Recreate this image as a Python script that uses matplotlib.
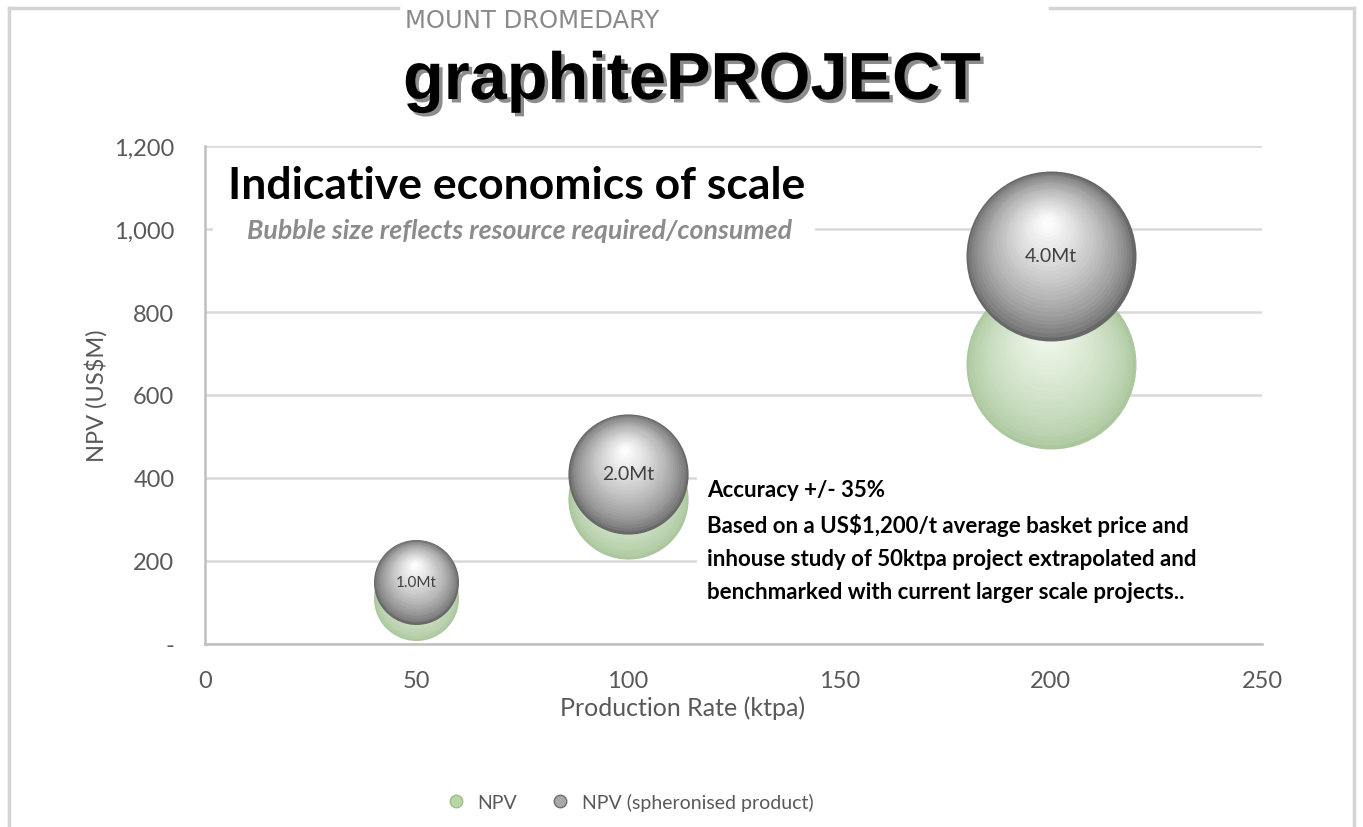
import numpy as np
import matplotlib
matplotlib.use("Agg")
import matplotlib.pyplot as plt
import matplotlib.transforms as mtransforms
import matplotlib.patheffects as pe
from matplotlib.colors import to_rgb
from matplotlib.lines import Line2D
from matplotlib.patches import Rectangle

# data
production = [50, 100, 200]          # ktpa
npv = [110, 350, 675]                # US$M
npv_spher = [150, 410, 935]          # US$M (spheronised product)
resource = [1.0, 2.0, 4.0]           # Mt, bubble size
bubble_labels = ["1.0Mt", "2.0Mt", "4.0Mt"]

x_ticks = [0, 50, 100, 150, 200, 250]
y_ticks = [0, 200, 400, 600, 800, 1000, 1200]

W, H = 1363, 828
BODY = "Lato"
GREY_TXT = "#595959"


def fx(px):
    return px / W


def fy(py):
    return 1 - py / H


def blend(c1, c2, t):
    a, b = np.array(to_rgb(c1)), np.array(to_rgb(c2))
    return tuple(a + (b - a) * t)


def draw_spheres(ax, xs, ys, sizes, edge, hi, z, gamma=0.8, n=28):
    """Fake 3D bubbles: stacked discs getting lighter and shifting up."""
    fig = ax.figure
    for x, y, s in zip(xs, ys, sizes):
        r = np.sqrt(s) / 2
        for k in range(n):
            t = k / (n - 1)
            f = 1 - 0.93 * t
            col = blend(edge, hi, t ** gamma)
            tr = mtransforms.offset_copy(ax.transData, fig=fig, x=-r * (1 - f) * 0.05,
                                         y=r * (1 - f) * 0.42, units="points")
            ax.scatter([x], [y], s=s * f * f, color=col, transform=tr,
                       zorder=z + k * 0.001, linewidths=0)


fig = plt.figure(figsize=(W / 100, H / 100), dpi=100)
fig.patch.set_facecolor("white")

ax = fig.add_axes([fx(205), fy(645), fx(1262) - fx(205), fy(147) - fy(645)])
ax.set_xlim(0, 250)
ax.set_ylim(0, 1200)
ax.set_xticks(x_ticks)
ax.set_yticks(y_ticks)
ax.set_xticklabels([str(v) for v in x_ticks])
ax.set_yticklabels(["-" if v == 0 else f"{v:,}" for v in y_ticks])
ax.tick_params(length=0, labelsize=17, labelcolor=GREY_TXT)
ax.tick_params(axis="y", pad=22)
ax.tick_params(axis="x", pad=19)
for lab in ax.get_xticklabels() + ax.get_yticklabels():
    lab.set_fontfamily(BODY)
for side in ["top", "right"]:
    ax.spines[side].set_visible(False)
for side in ["left", "bottom"]:
    ax.spines[side].set_color("#bfbfbf")
    ax.spines[side].set_linewidth(1.8)
ax.yaxis.grid(True, color="#d9d9d9", linewidth=1.8)
ax.set_axisbelow(True)

ax.set_ylabel("NPV (US$M)", fontsize=17, color=GREY_TXT, family=BODY, labelpad=5)
ax.set_xlabel("Production Rate (ktpa)", fontsize=18, color=GREY_TXT, family=BODY)
ax.xaxis.set_label_coords(0.452, -0.104)

# bubble area proportional to resource
size_scale = 3745
sizes = [size_scale * r for r in resource]
draw_spheres(ax, production, npv, sizes, "#abc79d", "#f0f8ec", 3, gamma=0.7)
draw_spheres(ax, production, npv_spher, sizes, "#686868", "#fcfcfc", 4, gamma=0.65)

for x, y, lab in zip(production, npv_spher, bubble_labels):
    ax.text(x, y, lab, ha="center", va="center", family=BODY,
            fontsize=11 if lab == "1.0Mt" else 14, color="#404040", zorder=6)

# white boxes behind the text blocks (they hide the gridlines in the original)
fig.patches.append(Rectangle((fx(213), fy(247)), fx(815) - fx(213), fy(150) - fy(247),
                             transform=fig.transFigure, facecolor="white",
                             edgecolor="none", zorder=5))
fig.patches.append(Rectangle((fx(697), fy(612)), fx(1268) - fx(697), fy(462) - fy(612),
                             transform=fig.transFigure, facecolor="white",
                             edgecolor="none", zorder=5))

fig.text(fx(228), fy(186), "Indicative economics of scale", fontsize=32,
         fontweight="bold", family=BODY, color="black", va="center", zorder=10)
fig.text(fx(247), fy(231), "Bubble size reflects resource required/consumed",
         fontsize=19.3, fontweight="bold", style="italic", family=BODY,
         color="#8c8c8c", va="center", zorder=10)

note = ("Accuracy +/- 35%\n"
        "Based on a US$1,200/t average basket price and\n"
        "inhouse study of 50ktpa project extrapolated and\n"
        "benchmarked with current larger scale projects..")
fig.text(fx(707), fy(480), note, fontsize=16, fontweight="bold", family=BODY,
         color="black", va="top", linespacing=1.7, zorder=10)

# header
fig.text(fx(405), fy(21), "MOUNT DROMEDARY", fontsize=17.5, color="#8a8a8a",
         family=["Liberation Sans Narrow", "DejaVu Sans"], va="center")
fig.text(fx(403), fy(100), "graphitePROJECT", fontsize=48, fontweight="bold",
         family=["Liberation Sans", "DejaVu Sans"], color="black", va="baseline",
         path_effects=[pe.withSimplePatchShadow(offset=(2.5, -2.5),
                                                shadow_rgbFace="#8c8c8c", alpha=1)])

# outer frame, broken at the top for the header
frame = dict(color="#d4d4d4", linewidth=2.5, transform=fig.transFigure)
fig.lines += [
    Line2D([fx(9), fx(398)], [fy(9), fy(9)], **frame),
    Line2D([fx(1050), fx(1354)], [fy(9), fy(9)], **frame),
    Line2D([fx(9), fx(9)], [fy(9), fy(830)], **frame),
    Line2D([fx(1354), fx(1354)], [fy(9), fy(830)], **frame),
]

handles = [
    Line2D([], [], linestyle="none", marker="o", markersize=9,
           markerfacecolor="#b8d6a6", markeredgecolor="#9fbf8c", label="NPV"),
    Line2D([], [], linestyle="none", marker="o", markersize=9,
           markerfacecolor="#a8a8a8", markeredgecolor="#6e6e6e",
           label="NPV (spheronised product)"),
]
fig.legend(handles=handles, loc="center", bbox_to_anchor=(fx(625), fy(803)), ncol=2,
           frameon=False, handletextpad=0.1, columnspacing=1.2,
           prop={"family": BODY, "size": 14}, labelcolor=GREY_TXT)

fig.savefig("out.png", dpi=100)
